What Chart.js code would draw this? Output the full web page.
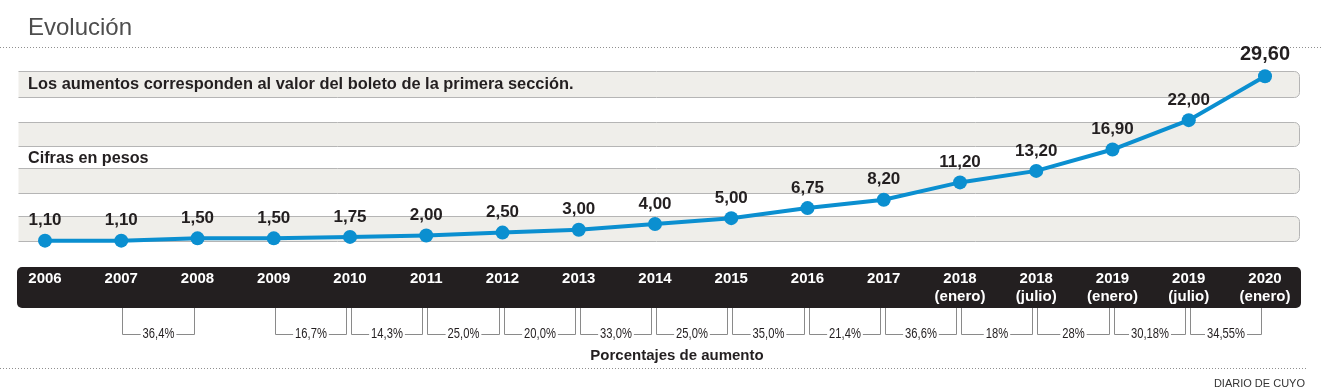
<!DOCTYPE html>
<html>
<head>
<meta charset="utf-8">
<script src="https://cdn.jsdelivr.net/npm/chart.js@4.4.1/dist/chart.umd.min.js"></script>
<style>
  html, body { margin: 0; padding: 0; background: #fff; }
  #wrap { position: relative; width: 1322px; height: 390px; overflow: hidden; font-family: "Liberation Sans", Arial, sans-serif; }
  #wrap canvas { position: absolute; left: 0; top: 0; }
  .t { position: absolute; white-space: nowrap; color: #231f20; line-height: 1; }
  #title { left: 28px; top: 15px; font-size: 24px; color: #4d4d4d; }
  #note1 { left: 28px; top: 75px; font-size: 16.4px; font-weight: bold; }
  #note2 { left: 28px; top: 149px; font-size: 16.2px; font-weight: bold; }
  #pct { left: 677px; top: 347px; font-size: 15px; font-weight: bold; transform: translateX(-50%); }
  #src { right: 17px; top: 378px; font-size: 11px; color: #333; }
</style>
</head>
<body>
<div id="wrap">
  <canvas id="myChart" width="1322" height="390"></canvas>
  <div class="t" id="title">Evolución</div>
  <div class="t" id="note1">Los aumentos corresponden al valor del boleto de la primera sección.</div>
  <div class="t" id="note2">Cifras en pesos</div>
  <div class="t" id="pct">Porcentajes de aumento</div>
  <div class="t" id="src">DIARIO DE CUYO</div>
</div>
<script>
// periodos (eje x)
const periods = ['2006', '2007', '2008', '2009', '2010', '2011', '2012', '2013', '2014', '2015', '2016', '2017',
    ['2018', '(enero)'], ['2018', '(julio)'], ['2019', '(enero)'], ['2019', '(julio)'], ['2020', '(enero)']];

// valor del boleto en pesos
const fares = [1.10, 1.10, 1.50, 1.50, 1.75, 2.00, 2.50, 3.00, 4.00, 5.00, 6.75, 8.20, 11.20, 13.20, 16.90, 22.00, 29.60];

// porcentaje de aumento entre el periodo i y el i+1
const increases = [null, '36,4%', null, '16,7%', '14,3%', '25,0%', '20,0%', '33,0%', '25,0%', '35,0%', '21,4%',
    '36,6%', '18%', '28%', '30,18%', '34,55%'];

const BLUE = '#0b8fd0';
const DARK = '#231f20';

function fmt(v) {
    return v.toFixed(2).replace('.', ',');
}

// fondo: lineas punteadas, franjas grises, banda negra y corchetes de porcentajes
const decor = {
    id: 'decor',
    beforeDraw(chart) {
        const ctx = chart.ctx;
        const xs = chart.scales.x;
        ctx.save();

        ctx.strokeStyle = '#8f8f8f';
        ctx.lineWidth = 1;
        ctx.setLineDash([1, 2]);
        ctx.beginPath();
        ctx.moveTo(0, 47.5); ctx.lineTo(1322, 47.5);
        ctx.moveTo(0, 368.5); ctx.lineTo(1306, 368.5);
        ctx.stroke();
        ctx.setLineDash([]);

        const bands = [[71, 97], [122, 146], [168, 193], [216, 241]];
        bands.forEach(([top, bot]) => {
            const l = 18.5, r = 1299.5, t = top + 0.5, b = bot + 0.5, rad = 5;
            ctx.beginPath();
            ctx.moveTo(l, t);
            ctx.lineTo(r - rad, t);
            ctx.arcTo(r, t, r, t + rad, rad);
            ctx.lineTo(r, b - rad);
            ctx.arcTo(r, b, r - rad, b, rad);
            ctx.lineTo(l, b);
            ctx.fillStyle = '#efeeea';
            ctx.fill();
            ctx.strokeStyle = '#b5b5b5';
            ctx.stroke();
        });

        // banda negra del eje
        ctx.beginPath();
        ctx.roundRect(17, 267, 1284, 41, 5);
        ctx.fillStyle = DARK;
        ctx.fill();

        // corchetes (texto condensado)
        const squeeze = 0.8;
        ctx.strokeStyle = '#8a8a8a';
        ctx.fillStyle = DARK;
        ctx.font = '14px "Liberation Sans", Arial';
        ctx.textAlign = 'center';
        ctx.textBaseline = 'middle';
        increases.forEach((txt, i) => {
            if (!txt) return;
            const x0 = Math.round(xs.getPixelForValue(i)) + 1.5;
            const x1 = Math.round(xs.getPixelForValue(i + 1)) - 3.5;
            const w = ctx.measureText(txt).width * squeeze;
            const mid = (x0 + x1) / 2;
            ctx.beginPath();
            ctx.moveTo(x0, 308); ctx.lineTo(x0, 334.5); ctx.lineTo(mid - w / 2 - 2, 334.5);
            ctx.moveTo(mid + w / 2 + 2, 334.5); ctx.lineTo(x1, 334.5); ctx.lineTo(x1, 308);
            ctx.stroke();
            ctx.save();
            ctx.translate(mid, 334);
            ctx.scale(squeeze, 1);
            ctx.fillText(txt, 0, 0);
            ctx.restore();
        });
        ctx.restore();
    },
    afterDatasetsDraw(chart) {
        const ctx = chart.ctx;
        const meta = chart.getDatasetMeta(0);
        ctx.save();
        ctx.fillStyle = DARK;
        ctx.textAlign = 'center';
        ctx.textBaseline = 'middle';
        meta.data.forEach((pt, i) => {
            const last = i === meta.data.length - 1;
            ctx.font = 'bold ' + (last ? 20 : 17) + 'px "Liberation Sans", Arial';
            ctx.fillText(fmt(fares[i]), pt.x, pt.y - (last ? 22 : 20));
        });
        ctx.restore();
    }
};

const ctx = document.getElementById('myChart').getContext('2d');

let chart = new Chart(ctx, {
    type: 'line',
    data: {
        labels: periods,
        datasets: [{
            data: fares,
            borderColor: BLUE,
            backgroundColor: BLUE,
            borderWidth: 4,
            pointRadius: 7,
            pointBorderWidth: 0,
            pointBackgroundColor: BLUE,
            tension: 0,
            fill: false,
            clip: false
        }]
    },
    options: {
        responsive: false,
        animation: false,
        events: [],
        layout: { padding: { left: 45, right: 57, top: 74, bottom: 73 } },
        plugins: { legend: { display: false }, tooltip: { enabled: false } },
        scales: {
            x: {
                grid: { display: false, drawTicks: false, tickLength: 0 },
                border: { display: false },
                ticks: {
                    autoSkip: false,
                    maxRotation: 0,
                    padding: 23,
                    color: '#ffffff',
                    font: { family: '"Liberation Sans", Arial', size: 15, weight: 'bold', lineHeight: '18px' }
                },
                afterFit: s => { s.height = 70; }
            },
            y: {
                display: false,
                min: 0,
                max: 30
            }
        }
    },
    plugins: [decor]
});
</script>
</body>
</html>
